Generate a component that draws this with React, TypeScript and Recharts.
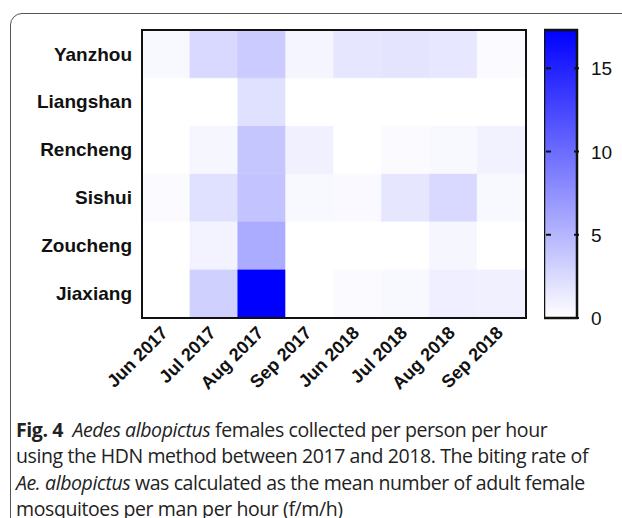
import React from 'react';
import { BarChart, Bar, Cell, XAxis, YAxis } from 'recharts';

const months = ['Jun 2017', 'Jul 2017', 'Aug 2017', 'Sep 2017', 'Jun 2018', 'Jul 2018', 'Aug 2018', 'Sep 2018'];
const towns = ['Yanzhou', 'Liangshan', 'Rencheng', 'Sishui', 'Zoucheng', 'Jiaxiang'];

// biting rate (f/m/h) per town, one value per month
const yanzhou = [0.5, 2.6, 3.5, 0.7, 1.7, 1.8, 1.6, 0.3];
const liangshan = [0, 0, 2.1, 0, 0, 0, 0, 0];
const rencheng = [0, 0.6, 3.9, 1.0, 0, 0.3, 0.5, 0.9];
const sishui = [0.3, 2.1, 4.1, 0.5, 0.4, 1.7, 2.6, 0.5];
const zoucheng = [0, 0.8, 5.7, 0, 0, 0, 0.6, 0];
const jiaxiang = [0, 3.2, 17.3, 0, 0.3, 0.5, 1.1, 1.0];

const scaleMax = 17.3;
const scaleTicks = [0, 5, 10, 15];

const values: Record<string, number[]> = {
  Yanzhou: yanzhou,
  Liangshan: liangshan,
  Rencheng: rencheng,
  Sishui: sishui,
  Zoucheng: zoucheng,
  Jiaxiang: jiaxiang,
};

// bottom row first when stacking
const stackOrder = [...towns].reverse();

const rows = months.map((m) => {
  const r: Record<string, string | number> = { month: m };
  towns.forEach((t) => (r[t] = 1));
  return r;
});

const heat = (v: number) => {
  const c = Math.round(255 * (1 - Math.min(v / scaleMax, 1)));
  return `rgb(${c},${c},255)`;
};

const labelFont = '"Liberation Sans", Arial, sans-serif';

const MonthTick = (props: any) => {
  const { x, y, payload } = props;
  return (
    <text
      x={x + 3}
      y={y + 9}
      textAnchor="end"
      transform={`rotate(-45, ${x + 3}, ${y + 9})`}
      fontFamily={labelFont}
      fontWeight="bold"
      fontSize={18}
      fill="#111"
    >
      {payload.value}
    </text>
  );
};

const ScaleTick = (props: any) => {
  const { x, y, payload } = props;
  return (
    <g>
      <line x1={x - 33} x2={x - 28} y1={y} y2={y} stroke="#111" strokeWidth={2} />
      <line x1={x - 5} x2={x} y1={y} y2={y} stroke="#111" strokeWidth={2} />
      <text x={x + 12} y={y + 7} fontFamily={labelFont} fontSize={19} fill="#111">
        {payload.value}
      </text>
    </g>
  );
};

const scaleData = [{ name: 'scale', value: scaleMax }];

export default function App() {
  return (
    <div style={{ position: 'absolute', left: 0, top: 0, width: 622, height: 518, overflow: 'hidden', background: '#fff' }}>
      <div
        style={{
          position: 'absolute',
          left: 10,
          top: 13,
          width: 700,
          height: 600,
          border: '1px solid #555',
          borderTopLeftRadius: 12,
        }}
      />
      <div style={{ position: 'absolute', left: 0, top: 0 }}>
        <BarChart width={540} height={420} data={rows} barCategoryGap={0} margin={{ top: 30, right: 15, bottom: 0, left: 0 }}>
          {stackOrder.map((t) => (
            <Bar key={t} dataKey={t} stackId="h" isAnimationActive={false}>
              {values[t].map((v, i) => (
                <Cell key={i} fill={heat(v)} stroke={heat(v)} strokeWidth={0.5} />
              ))}
            </Bar>
          ))}
          <XAxis dataKey="month" height={103} interval={0} tick={<MonthTick />} tickLine={false} axisLine={false} />
          <YAxis
            type="number"
            domain={[0, 6]}
            ticks={[0.5, 1.5, 2.5, 3.5, 4.5, 5.5]}
            interval={0}
            width={142}
            tickFormatter={(v: number) => stackOrder[Math.floor(v)]}
            tick={{ fontFamily: labelFont, fontWeight: 'bold', fontSize: 19, fill: '#111' }}
            tickLine={false}
            tickSize={8}
            axisLine={false}
          />
        </BarChart>
      </div>
      {/* frame around the heat map */}
      <div
        style={{
          position: 'absolute',
          left: 141,
          top: 29,
          width: 386,
          height: 290,
          boxSizing: 'border-box',
          border: '2.5px solid #111',
          pointerEvents: 'none',
        }}
      />
      <div style={{ position: 'absolute', left: 544, top: 0 }}>
        <BarChart width={78} height={345} data={scaleData} barCategoryGap={0} margin={{ top: 30, right: 0, bottom: 27, left: 0 }}>
          <defs>
            <linearGradient id="scaleGrad" x1="0" y1="1" x2="0" y2="0">
              <stop offset="0%" stopColor="#ffffff" />
              <stop offset="100%" stopColor="#0000ff" />
            </linearGradient>
          </defs>
          <XAxis dataKey="name" hide />
          <YAxis
            orientation="right"
            type="number"
            domain={[0, scaleMax]}
            ticks={scaleTicks}
            interval={0}
            width={45}
            tick={<ScaleTick />}
            tickLine={false}
            tickSize={0}
            axisLine={false}
          />
          <Bar dataKey="value" fill="url(#scaleGrad)" stroke="#111" strokeWidth={2.5} isAnimationActive={false} />
        </BarChart>
      </div>
      <div
        style={{
          position: 'absolute',
          left: 16,
          top: 417,
          fontFamily: '"Open Sans", sans-serif',
          fontSize: 19.5,
          lineHeight: '26.3px',
          color: '#222',
          whiteSpace: 'nowrap',
          letterSpacing: -0.4,
        }}
      >
        <div>
          <b>Fig. 4</b>&nbsp; <i>Aedes albopictus</i> females collected per person per hour
        </div>
        <div>using the HDN method between 2017 and 2018. The biting rate of</div>
        <div>
          <i>Ae. albopictus</i> was calculated as the mean number of adult female
        </div>
        <div>mosquitoes per man per hour (f/m/h)</div>
      </div>
    </div>
  );
}
